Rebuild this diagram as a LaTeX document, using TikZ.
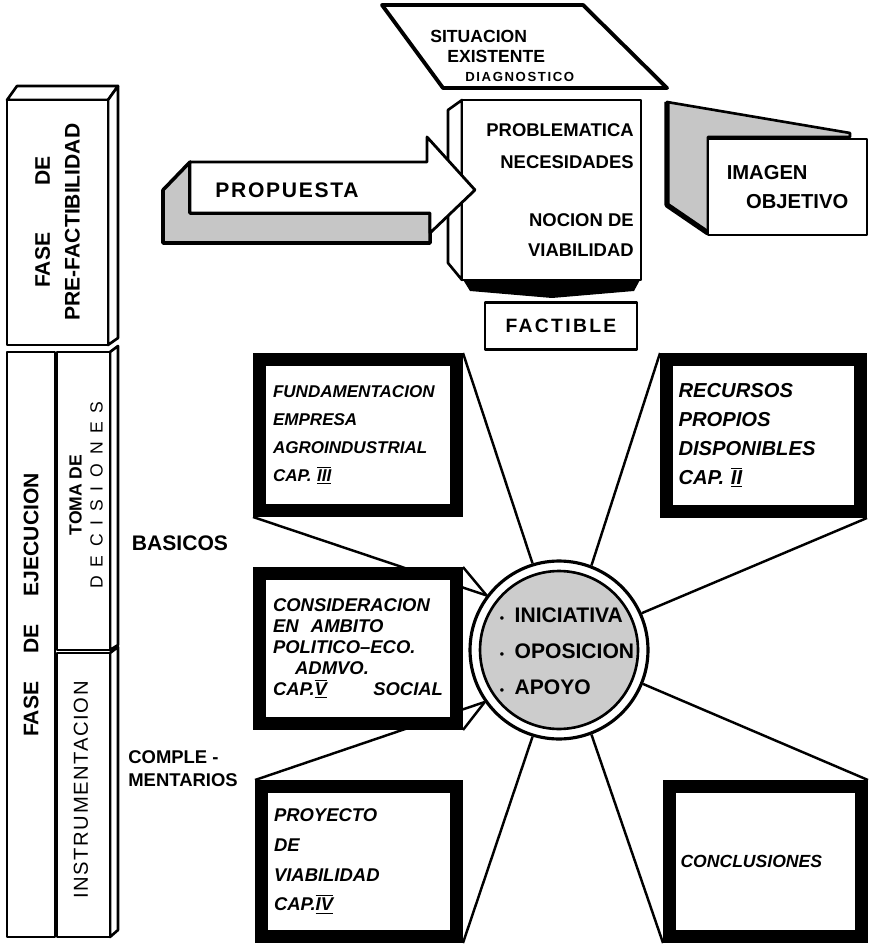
\documentclass[tikz,border=0pt]{standalone}
\usepackage{fontspec}
\setmainfont{Liberation Sans}
\usetikzlibrary{backgrounds}

\newcommand{\capnum}[1]{$\overline{\underline{\mbox{#1}}}$}
\newcommand{\dotitem}{{\fontsize{7}{7}\selectfont\textbullet}\hspace{6pt}}

\begin{document}
\begin{tikzpicture}[x=0.02cm, y=-0.02cm,
  facebox/.style={draw, fill=white, line width=1.5pt, line join=round},
  shadeface/.style={draw, fill=gray!45, line width=1.5pt, line join=round},
  phasetext/.style={rotate=90, align=center, inner sep=0pt},
  toptext/.style={font=\fontsize{10.5}{18}\selectfont\bfseries, inner sep=0pt},
  capbox/.style={draw=black, fill=white, line width=0.26cm, inner sep=0pt,
    text width=3.4cm, align=left},
  beam/.style={line width=1.4pt},
  sidelabel/.style={align=left, inner sep=0pt},
]
\useasboundingbox (0,0) rectangle (871,945);

% ============================================================
% LEFT: phase bars
% ============================================================
\draw[facebox] (7,100) -- (17,86) -- (118,86) -- (108,100) -- cycle;
\draw[facebox] (108,100) -- (118,86) -- (118,338) -- (108,345) -- cycle;
\draw[facebox] (7,100) rectangle (108,345);
\node[phasetext, font=\fontsize{12}{17}\selectfont\bfseries] (prefase) at (57.5,222)
  {FASE\hspace{27pt}DE\\PRE-FACTIBILIDAD};

\draw[facebox] (7,352) rectangle (55,937);
\node[phasetext, font=\fontsize{12}{14}\selectfont\bfseries] (ejefase) at (31,605)
  {FASE\hspace{16pt}DE\hspace{16pt}EJECUCION};

\draw[facebox] (110,352) -- (118,346) -- (118,645) -- (110,650) -- cycle;
\draw[facebox] (57,352) rectangle (110,650);
\node[phasetext, font=\fontsize{10}{12}\selectfont] (toma) at (86,495)
  {{\bfseries TOMA DE}\\{\addfontfeature{LetterSpace=50}DECISIONES}};

\draw[facebox] (110,653) -- (118,647) -- (118,930) -- (110,937) -- cycle;
\draw[facebox] (57,653) rectangle (110,937);
\node[phasetext, font=\fontsize{11.5}{13}\selectfont\addfontfeature{LetterSpace=8}] (instr) at (81,790)
  {INSTRUMENTACION};

\node[sidelabel, font=\fontsize{12}{14}\selectfont\bfseries] (basicos) at (180,543) {BASICOS};
\node[sidelabel, anchor=west, font=\fontsize{10.5}{13}\selectfont\bfseries] (complem) at (128,769)
  {COMPLE -\\MENTARIOS};

% ============================================================
% TOP: situacion, problematica, propuesta, imagen
% ============================================================
\draw[line width=2.2pt, line join=round, fill=white] (382,5) -- (583,5) -- (667,88) -- (443,88) -- cycle;
\node[toptext, anchor=west, font=\fontsize{10}{12}\selectfont\bfseries] (situa) at (430,36) {SITUACION};
\node[toptext, anchor=west, font=\fontsize{10}{12}\selectfont\bfseries] (exist) at (447,56) {EXISTENTE};
\node[toptext, anchor=west, font=\fontsize{7.5}{9}\selectfont\bfseries\addfontfeature{LetterSpace=12}] (diagn) at (465,77) {DIAGNOSTICO};

% problematica block with side strip and base
\draw[facebox] (448,110) -- (462,100) -- (462,280) -- (448,263) -- cycle;
\fill (462,278) -- (641,278) -- (634,291) -- (552,298) -- (470,291) -- cycle;
\node[facebox, minimum width=3.58cm, minimum height=3.6cm] (prob) at (551.5,190) {};
\node[toptext, anchor=east, align=right] (probA) at (634,146) {PROBLEMATICA\\NECESIDADES};
\node[toptext, anchor=east, align=right, font=\fontsize{10.5}{17}\selectfont\bfseries] (probB) at (634,235) {NOCION DE\\VIABILIDAD};

% propuesta arrow
\draw[shadeface, line width=2pt] (190,162) -- (163,190) -- (163,243) -- (430,243) -- (430,213) -- (190,213) -- cycle;
\draw[facebox, line width=1.6pt] (190,162) -- (427,162) -- (427,137) -- (475,190) -- (430,233) -- (430,213) -- (190,213) -- cycle;
\node[font=\fontsize{12}{14}\selectfont\bfseries\addfontfeature{LetterSpace=8}] (propuesta) at (287,190) {PROPUESTA};

% imagen objetivo
\draw[shadeface] (667,102) -- (850,133) -- (850,137) -- (708,137) -- (708,233) -- (667,205) -- cycle;
\draw[line width=3pt, line join=round] (667,102) -- (667,205) -- (708,233);
\node[facebox, minimum width=3.18cm, minimum height=1.92cm, align=left,
  font=\fontsize{11.5}{17}\selectfont\bfseries] (imagen) at (787.5,187)
  {IMAGEN\\\hspace*{11pt}OBJETIVO};

% factible
\node[facebox, line width=1.4pt, minimum width=3.04cm, minimum height=0.94cm,
  font=\fontsize{11}{13}\selectfont\bfseries\addfontfeature{LetterSpace=12}] (factible) at (561,326) {FACTIBLE};

% ============================================================
% STAR: centre circle and chapter boxes
% ============================================================
\node[circle, draw, fill=white, line width=1.8pt, minimum size=3.56cm] (cen) at (559,650) {};
\draw[line width=1.5pt, fill=gray!40] (cen.center) circle[radius=1.58cm];
\node[align=left, inner sep=0pt, font=\fontsize{12}{20.5}\selectfont\bfseries] (ctext) at (567,651)
  {\dotitem INICIATIVA\\\dotitem OPOSICION\\\dotitem APOYO};

\node[capbox, minimum width=3.94cm, minimum height=3.02cm,
  font=\fontsize{9.7}{16}\selectfont\bfseries\itshape] (fund) at (358,435)
  {FUNDAMENTACION\\EMPRESA\\AGROINDUSTRIAL\\CAP. \capnum{III}};
\node[capbox, minimum width=3.88cm, minimum height=3.04cm,
  font=\fontsize{11.5}{16.5}\selectfont\bfseries\itshape] (recur) at (763.5,435.5)
  {RECURSOS\\PROPIOS\\DISPONIBLES\\CAP. \capnum{II}};
\node[capbox, minimum width=3.94cm, minimum height=3.0cm,
  font=\fontsize{10.5}{12}\selectfont\bfseries\itshape] (consid) at (358,648.5)
  {CONSIDERACION\\EN\ \ AMBITO\\POLITICO--ECO.\\\hspace*{1.2em}ADMVO.\\CAP.\capnum{V}\hfill SOCIAL};
\node[capbox, minimum width=3.9cm, minimum height=3.0cm,
  font=\fontsize{10.5}{17}\selectfont\bfseries\itshape] (proy) at (359,861.5)
  {PROYECTO\\DE\\VIABILIDAD\\CAP.\capnum{IV}};
\node[capbox, minimum width=3.84cm, minimum height=3.0cm,
  font=\fontsize{10}{12}\selectfont\bfseries\itshape] (concl) at (765.5,861.5)
  {CONCLUSIONES};

% beams from boxes to the circle
\begin{scope}[on background layer]
\draw[beam] (fund.north east) -- (cen.107);
\draw[beam] (fund.south west) -- (cen.143);
\draw[beam] (recur.north west) -- (cen.69);
\draw[beam] (recur.south east) -- (cen.24);
\draw[beam] (consid.north east) -- (cen.143);
\draw[beam] (consid.south east) -- (cen.215);
\draw[beam] (proy.north west) -- (cen.215);
\draw[beam] (proy.south east) -- (cen.253);
\draw[beam] (concl.north east) -- (cen.338);
\draw[beam] (concl.south west) -- (cen.291);
\end{scope}

\end{tikzpicture}
\end{document}
